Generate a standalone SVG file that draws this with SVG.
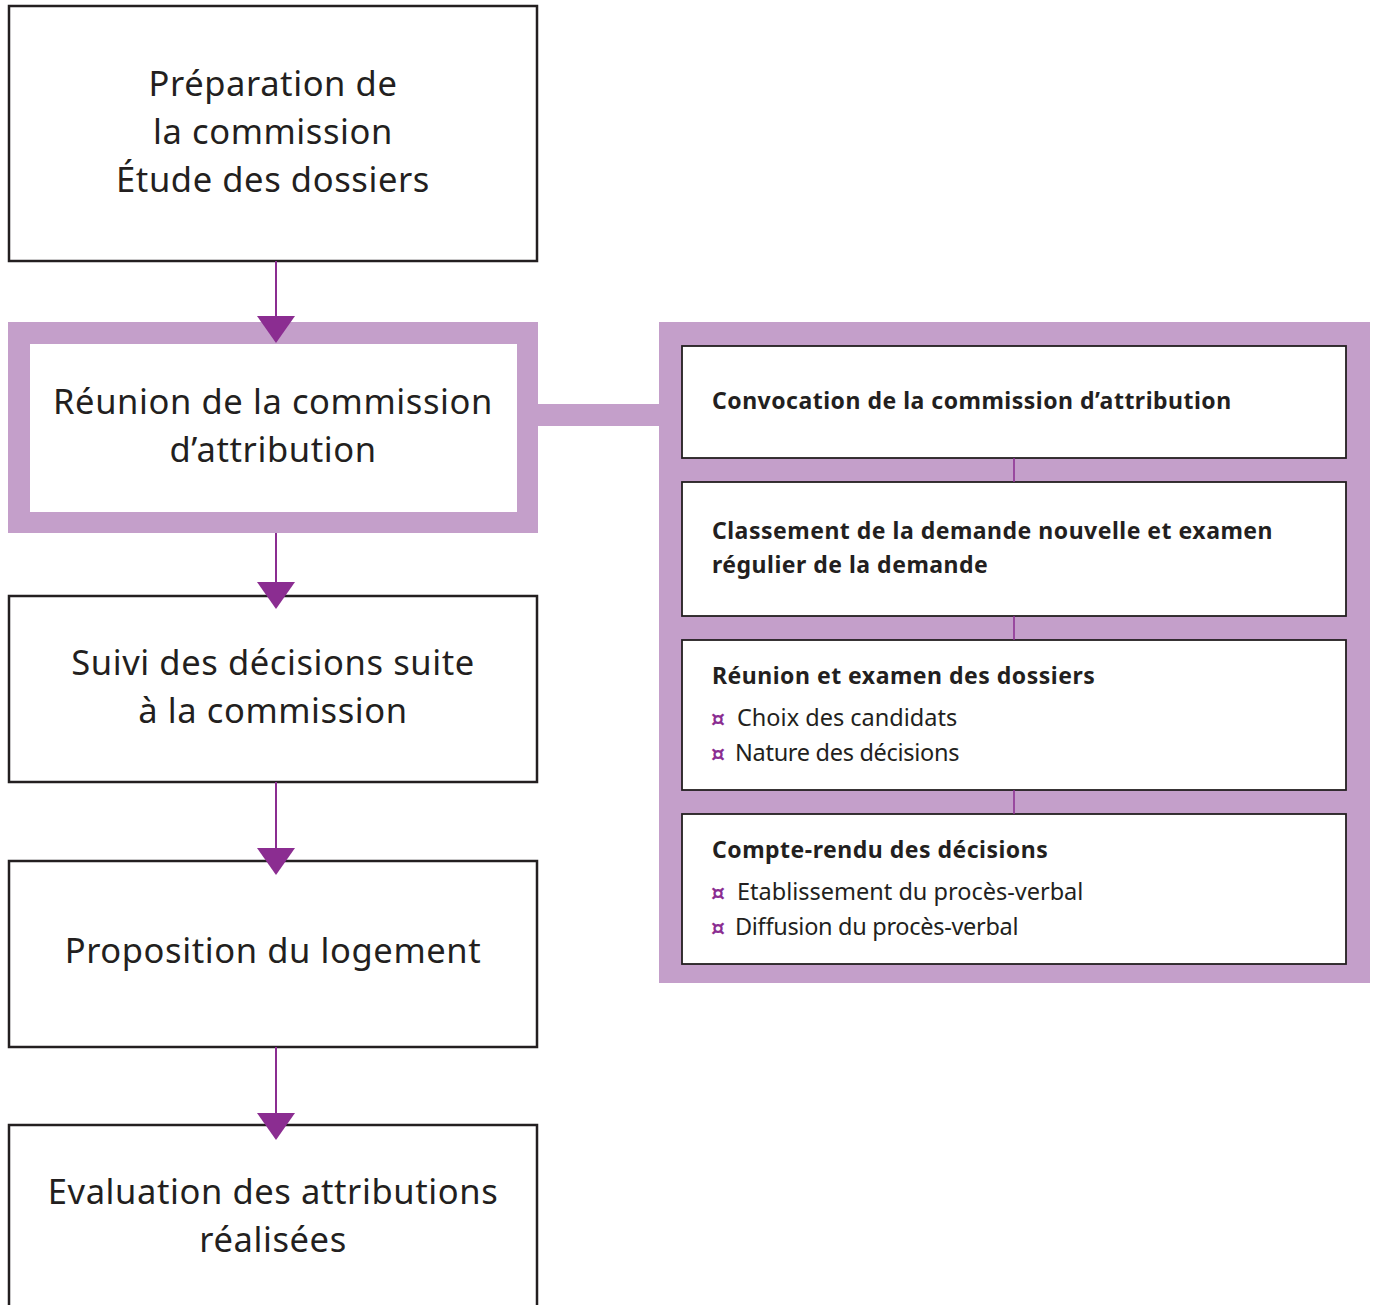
<svg xmlns="http://www.w3.org/2000/svg" width="1375" height="1305" viewBox="0 0 1375 1305">
  <style>
    .box { fill: #ffffff; stroke: #231f20; stroke-width: 2.5; }
    .sub { fill: #ffffff; stroke: #231f20; stroke-width: 1.8; }
    .band { fill: #c49fca; }
    .main { font-family: "Noto Sans", "DejaVu Sans", sans-serif; font-size: 34.5px; fill: #231f20; text-anchor: middle; letter-spacing: 0.6px; }
    .head { font-family: "Noto Sans", "DejaVu Sans", sans-serif; font-size: 23px; font-weight: bold; fill: #231f20; letter-spacing: 0.5px; }
    .item { font-family: "Noto Sans", "DejaVu Sans", sans-serif; font-size: 23.5px; fill: #231f20; }
    .bullet { font-family: "DejaVu Sans", sans-serif; font-size: 22px; font-weight: bold; fill: #8b2d91; }
    .link { stroke: #8b2d91; stroke-width: 2; fill: none; }
    .tick { stroke: #8b2d91; stroke-width: 1.5; }
    .head-arrow { fill: #8b2d91; }
  </style>

  <!-- purple frames behind the highlighted step and its detail panel -->
  <g id="frames">
    <rect class="band" x="8" y="322" width="530" height="211"/>
    <rect class="band" x="537" y="404" width="124" height="22"/>
    <rect class="band" x="659" y="322" width="711" height="661"/>
  </g>

  <g id="node-preparation">
    <rect class="box" x="9" y="6" width="528" height="255"/>
    <text class="main" x="273" y="96">Préparation de</text>
    <text class="main" x="273" y="144">la commission</text>
    <text class="main" x="273" y="192">Étude des dossiers</text>
  </g>

  <g id="node-reunion">
    <rect fill="#ffffff" x="30" y="344" width="487" height="168"/>
    <text class="main" x="273" y="414">Réunion de la commission</text>
    <text class="main" x="273" y="462">d’attribution</text>
  </g>

  <g id="node-suivi">
    <rect class="box" x="9" y="596" width="528" height="186"/>
    <text class="main" x="273" y="675">Suivi des décisions suite</text>
    <text class="main" x="273" y="723">à la commission</text>
  </g>

  <g id="node-proposition">
    <rect class="box" x="9" y="861" width="528" height="186"/>
    <text class="main" x="273" y="963">Proposition du logement</text>
  </g>

  <g id="node-evaluation">
    <rect class="box" x="9" y="1125" width="528" height="200"/>
    <text class="main" x="273" y="1204">Evaluation des attributions</text>
    <text class="main" x="273" y="1252">réalisées</text>
  </g>

  <g id="node-convocation">
    <rect class="sub" x="682" y="346" width="664" height="112"/>
    <text class="head" x="712" y="409">Convocation de la commission d’attribution</text>
  </g>

  <g id="node-classement">
    <rect class="sub" x="682" y="482" width="664" height="134"/>
    <text class="head" x="712" y="539">Classement de la demande nouvelle et examen</text>
    <text class="head" x="712" y="573">régulier de la demande</text>
  </g>

  <g id="node-examen">
    <rect class="sub" x="682" y="640" width="664" height="150"/>
    <text class="head" x="712" y="684">Réunion et examen des dossiers</text>
    <text class="bullet" x="711" y="726">¤</text>
    <text class="item" x="737" y="726">Choix des candidats</text>
    <text class="bullet" x="711" y="761">¤</text>
    <text class="item" x="735" y="761" letter-spacing="-0.3">Nature des décisions</text>
  </g>

  <g id="node-compte-rendu">
    <rect class="sub" x="682" y="814" width="664" height="150"/>
    <text class="head" x="712" y="858">Compte-rendu des décisions</text>
    <text class="bullet" x="711" y="900">¤</text>
    <text class="item" x="737" y="900">Etablissement du procès-verbal</text>
    <text class="bullet" x="711" y="935">¤</text>
    <text class="item" x="735" y="935" letter-spacing="-0.3">Diffusion du procès-verbal</text>
  </g>

  <!-- flow connectors, drawn last so the heads sit on the box edges -->
  <g id="connectors">
    <line class="link" x1="276" y1="261" x2="276" y2="320"/>
    <polygon class="head-arrow" points="257,316 295,316 276,343"/>
    <line class="link" x1="276" y1="533" x2="276" y2="585"/>
    <polygon class="head-arrow" points="257,582 295,582 276,609"/>
    <line class="link" x1="276" y1="782" x2="276" y2="851"/>
    <polygon class="head-arrow" points="257,848 295,848 276,875"/>
    <line class="link" x1="276" y1="1047" x2="276" y2="1116"/>
    <polygon class="head-arrow" points="257,1113 295,1113 276,1140"/>
    <line class="tick" x1="1014" y1="458" x2="1014" y2="482"/>
    <line class="tick" x1="1014" y1="616" x2="1014" y2="640"/>
    <line class="tick" x1="1014" y1="790" x2="1014" y2="814"/>
  </g>
</svg>
